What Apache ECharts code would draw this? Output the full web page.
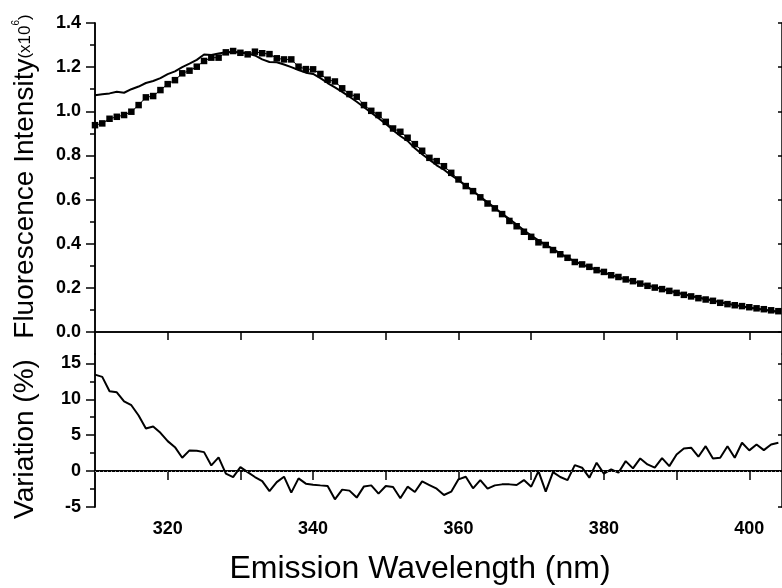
<!DOCTYPE html>
<html>
<head>
<meta charset="utf-8">
<script src="https://cdn.jsdelivr.net/npm/echarts@6/dist/echarts.min.js"></script>
<style>
  html, body { margin: 0; padding: 0; background: #fff; }
  #main { width: 782px; height: 588px; }
</style>
</head>
<body>
<div id="main"></div>
<script>
// emission wavelength (nm), one point per nm
const wavelength = [
  310, 311, 312, 313, 314, 315, 316, 317, 318, 319, 320, 321, 322, 323, 324, 325, 326, 327, 328, 329,
  330, 331, 332, 333, 334, 335, 336, 337, 338, 339, 340, 341, 342, 343, 344, 345, 346, 347, 348, 349,
  350, 351, 352, 353, 354, 355, 356, 357, 358, 359, 360, 361, 362, 363, 364, 365, 366, 367, 368, 369,
  370, 371, 372, 373, 374, 375, 376, 377, 378, 379, 380, 381, 382, 383, 384, 385, 386, 387, 388, 389,
  390, 391, 392, 393, 394, 395, 396, 397, 398, 399, 400, 401, 402, 403, 404
];
// measured spectrum (squares), x10^6
const measured = [
  0.937, 0.945, 0.966, 0.975, 0.983, 0.998, 1.028, 1.063, 1.069, 1.096, 1.123, 1.141, 1.172, 1.184, 1.202, 1.228, 1.243, 1.243, 1.267, 1.273,
  1.265, 1.258, 1.270, 1.263, 1.259, 1.240, 1.235, 1.235, 1.202, 1.191, 1.190, 1.169, 1.143, 1.135, 1.104, 1.078, 1.066, 1.028, 1.002, 0.983,
  0.952, 0.922, 0.907, 0.880, 0.851, 0.821, 0.789, 0.774, 0.751, 0.721, 0.691, 0.661, 0.638, 0.610, 0.582, 0.560, 0.534, 0.503, 0.479, 0.454,
  0.431, 0.406, 0.394, 0.371, 0.352, 0.336, 0.317, 0.306, 0.295, 0.280, 0.272, 0.257, 0.249, 0.238, 0.230, 0.219, 0.209, 0.201, 0.194, 0.186,
  0.177, 0.168, 0.161, 0.153, 0.147, 0.141, 0.132, 0.126, 0.121, 0.117, 0.112, 0.107, 0.103, 0.098, 0.094
];
// fitted spectrum (solid line), x10^6
const fitted = [
  1.073, 1.077, 1.081, 1.088, 1.084, 1.100, 1.112, 1.128, 1.137, 1.150, 1.168, 1.181, 1.200, 1.216, 1.233, 1.257, 1.255, 1.262, 1.267, 1.267,
  1.267, 1.262, 1.253, 1.235, 1.223, 1.222, 1.212, 1.200, 1.187, 1.175, 1.169, 1.150, 1.128, 1.108, 1.088, 1.066, 1.043, 1.018, 0.993, 0.968,
  0.943, 0.914, 0.888, 0.866, 0.832, 0.805, 0.781, 0.755, 0.735, 0.710, 0.688, 0.663, 0.639, 0.612, 0.587, 0.562, 0.536, 0.512, 0.487, 0.461,
  0.437, 0.415, 0.395, 0.376, 0.355, 0.337, 0.320, 0.306, 0.293, 0.281, 0.270, 0.258, 0.248, 0.238, 0.229, 0.220, 0.211, 0.203, 0.195, 0.187,
  0.179, 0.171, 0.163, 0.156, 0.149, 0.142, 0.135, 0.128, 0.122, 0.116, 0.110, 0.105, 0.100, 0.095, 0.090
];
// variation (%)
const variation = [
  13.43, 13.11, 11.11, 10.97, 9.72, 9.17, 7.74, 5.93, 6.21, 5.33, 4.17, 3.33, 1.86, 2.88, 2.83, 2.64, 0.79, 1.90, -0.36, -0.83,
  0.56, -0.14, -0.83, -1.39, -2.78, -1.53, -0.78, -3.00, -1.01, -1.75, -1.89, -1.99, -2.08, -3.93, -2.58, -2.72, -3.69, -2.13, -1.99, -3.14,
  -2.08, -2.22, -3.79, -2.17, -2.92, -1.43, -1.94, -2.45, -3.33, -2.87, -1.15, -0.78, -2.40, -1.25, -2.45, -1.99, -1.85, -1.85, -1.94, -1.25,
  -2.17, 0.00, -2.87, -0.14, -0.83, -1.25, 0.83, 0.47, -0.92, 1.17, -0.36, 0.24, -0.22, 1.39, 0.38, 1.76, 0.93, 0.47, 1.81, 0.69,
  2.32, 3.15, 3.25, 2.00, 3.47, 1.76, 1.86, 3.47, 1.86, 3.94, 2.88, 3.71, 2.92, 3.71, 3.94
];

const xLabelTicks = [320, 340, 360, 380, 400];
const xMinorTicks = [330, 350, 370, 390];
const xAllTicks = [320, 330, 340, 350, 360, 370, 380, 390, 400];
const intensityTicks = [0, 0.2, 0.4, 0.6, 0.8, 1.0, 1.2, 1.4];
const intensityMinor = [0.1, 0.3, 0.5, 0.7, 0.9, 1.1, 1.3];
const variationTicks = [-5, 0, 5, 10, 15];
const variationMinor = [-2.5, 2.5, 7.5, 12.5];

const FONT = 'Liberation Sans, Arial, sans-serif';
const black = '#000';

const pair = (ys) => wavelength.map((x, i) => [x, ys[i]]);

const line = {show: true, lineStyle: {color: black, width: 1.5}};
const noLabel = {show: false};

function xAx(grid, position, tickVals, tickLen, inside, labels) {
  return {
    type: 'value', gridIndex: grid, position: position, min: 310, max: 404.5,
    axisLine: line, splitLine: {show: false},
    axisTick: tickVals ? {show: true, inside: inside, length: tickLen, customValues: tickVals,
      lineStyle: {color: black, width: 1.5}} : {show: false},
    axisLabel: labels ? {
      show: true, customValues: labels, margin: 13, color: black,
      fontFamily: FONT, fontWeight: 'bold', fontSize: 18
    } : noLabel
  };
}

function yAx(grid, position, min, max, tickVals, tickLen, inside, labels, fmt) {
  return {
    type: 'value', gridIndex: grid, position: position, min: min, max: max,
    axisLine: line, splitLine: {show: false},
    axisTick: {show: true, inside: inside, length: tickLen, customValues: tickVals,
      lineStyle: {color: black, width: 1.5}},
    axisLabel: labels ? {
      show: true, customValues: labels, margin: 14, color: black,
      fontFamily: FONT, fontWeight: 'bold', fontSize: 18, formatter: fmt
    } : noLabel
  };
}

const chart = echarts.init(document.getElementById('main'));

const yTop = yAx(0, 'left', -0.1, 1.4, intensityTicks, 9, false, intensityTicks, v => v.toFixed(1));
yTop.name = '{a|Fluorescence Intensity}{b|(x10}{c|6}{b|)}';
yTop.nameLocation = 'middle';
yTop.nameGap = 56;
yTop.nameTextStyle = {
  padding: [0, 0, 0, 24],
  rich: {
    a: {fontFamily: FONT, fontSize: 28, color: black},
    b: {fontFamily: FONT, fontSize: 17, color: black},
    c: {fontFamily: FONT, fontSize: 10, color: black, verticalAlign: 'top', padding: [0, 0, 12, 0]}
  }
};

const yBot = yAx(1, 'left', -5, 16.3, variationTicks, 9, false, variationTicks, v => String(v));
yBot.name = 'Variation (%)';
yBot.nameLocation = 'middle';
yBot.nameGap = 56;
yBot.nameTextStyle = {fontFamily: FONT, fontSize: 28, color: black, padding: [0, 17, 0, 0]};

const xBot = xAx(1, 'bottom', xLabelTicks, 9, false, xLabelTicks);
xBot.name = 'Emission Wavelength (nm)';
xBot.nameLocation = 'middle';
xBot.nameGap = 46;
xBot.nameTextStyle = {fontFamily: FONT, fontSize: 32, color: black, padding: [0, 37, 0, 0]};

chart.setOption({
  backgroundColor: '#fff',
  animation: false,
  grid: [
    {left: 95, width: 691, top: 23, height: 331},
    {left: 95, width: 691, top: 354, height: 153}
  ],
  xAxis: [
    xAx(0, 'bottom', null),
    xAx(0, 'top', xAllTicks, 8, true),
    xBot,
    xAx(1, 'bottom', xMinorTicks, 5, false),
    xAx(1, 'top', xAllTicks, 9, true)
  ],
  yAxis: [
    yTop,
    yAx(0, 'left', -0.1, 1.4, intensityMinor, 5, false),
    yAx(0, 'right', -0.1, 1.4, intensityTicks, 4, true),
    yBot,
    yAx(1, 'left', -5, 16.3, variationMinor, 5, false),
    yAx(1, 'right', -5, 16.3, variationTicks, 4, true)
  ],
  series: [
    {
      name: 'fit', type: 'line', xAxisIndex: 0, yAxisIndex: 0,
      data: pair(fitted), showSymbol: false,
      lineStyle: {color: black, width: 2}
    },
    {
      name: 'measured', type: 'line', xAxisIndex: 0, yAxisIndex: 0,
      data: pair(measured), symbol: 'rect', symbolSize: 6.5,
      itemStyle: {color: black}, lineStyle: {color: black, width: 1}
    },
    {
      name: 'variation', type: 'line', xAxisIndex: 2, yAxisIndex: 3,
      data: pair(variation), showSymbol: false,
      lineStyle: {color: black, width: 2},
      markLine: {
        silent: true, symbol: ['none', 'none'], label: {show: false},
        lineStyle: {color: '#999', type: [1, 3], width: 1},
        data: [{yAxis: 0}]
      }
    }
  ]
});
</script>
</body>
</html>
